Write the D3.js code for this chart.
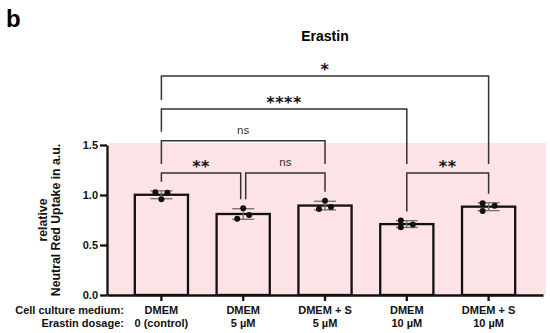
<!DOCTYPE html>
<html>
<head>
<meta charset="utf-8">
<script src="https://cdn.jsdelivr.net/npm/d3@7"></script>
<style>
  body{margin:0;background:#fff;}
  svg{display:block;font-family:"Liberation Sans",Arial,sans-serif;}
</style>
</head>
<body>
<div id="chart"></div>
<script>
// groups on the x axis
const groups=["ctrl","d5","s5","d10","s10"];
const mediumLabels=["DMEM","DMEM","DMEM + S","DMEM","DMEM + S"];
const dosageLabels=["0 (control)","5 µM","5 µM","10 µM","10 µM"];
const rowTitles=["Cell culture medium:","Erastin dosage:"];

// replicate values per group (relative neutral red uptake)
const replicates=[
  [1.027,1.023,0.957],
  [0.867,0.763,0.800],
  [0.943,0.860,0.880],
  [0.745,0.677,0.705],
  [0.917,0.840,0.893]
];
// horizontal spread slot of each dot (-1 left, 0 centre, 1 right)
const spread=[
  [-1,1,0],
  [0,-1,1],
  [0,-1,1],
  [-1,-1,1],
  [-1,-1,1]
];

const yTicks=[0,0.5,1.0,1.5];

// significance brackets: group index from/to, label, height in axis units
const brackets=[
  {from:0,to:1,label:"**",level:1.22},
  {from:1,to:2,label:"ns",level:1.22},
  {from:3,to:4,label:"**",level:1.22},
  {from:0,to:2,label:"ns",level:1.543},
  {from:0,to:3,label:"****",level:1.86},
  {from:0,to:4,label:"*",level:2.19}
];

const width=550, height=333;
const svg=d3.select("#chart").append("svg")
  .attr("width",width).attr("height",height);

const x=d3.scaleBand().domain(groups).range([107,543])
  .paddingInner(0.35).paddingOuter(0.34);
const y=d3.scaleLinear().domain([0,1.5]).range([295,145]);
const slot=d3.scaleLinear().domain([-1,1]).range([-6,6]);

const stats=replicates.map((v,i)=>({
  g:groups[i],
  mean:d3.mean(v),
  sd:d3.deviation(v),
  max:d3.max(v)
}));

// panel letter + title
svg.append("text").attr("x",6).attr("y",26.5)
  .attr("font-size",24).attr("font-weight","bold").text("b");
svg.append("text").attr("x",325).attr("y",41)
  .attr("text-anchor","middle").attr("font-size",14).attr("font-weight","bold")
  .text("Erastin");

// pink plot background
svg.append("rect")
  .attr("x",108).attr("y",y(1.52))
  .attr("width",546-108).attr("height",y(0)-y(1.52))
  .attr("fill","#fde3e5");

// bars
svg.append("g").selectAll("rect").data(stats).enter().append("rect")
  .attr("x",d=>x(d.g)).attr("y",d=>y(d.mean))
  .attr("width",x.bandwidth()).attr("height",d=>y(0)-y(d.mean))
  .attr("fill","none").attr("stroke","#111").attr("stroke-width",2.3);

// error bars (mean +- SD)
const eb=svg.append("g").attr("stroke","#6e6e6e").attr("stroke-width",1.3);
stats.forEach(d=>{
  const cx=x(d.g)+x.bandwidth()/2;
  eb.append("line").attr("x1",cx).attr("x2",cx)
    .attr("y1",y(d.mean-d.sd)).attr("y2",y(d.mean+d.sd));
  [d.mean-d.sd,d.mean+d.sd].forEach(v=>{
    eb.append("line").attr("x1",cx-11).attr("x2",cx+11)
      .attr("y1",y(v)).attr("y2",y(v));
  });
});

// replicate dots
const dots=[];
replicates.forEach((vals,i)=>vals.forEach((v,j)=>dots.push({g:groups[i],v:v,s:spread[i][j]})));
svg.append("g").selectAll("circle").data(dots).enter().append("circle")
  .attr("cx",d=>x(d.g)+x.bandwidth()/2+slot(d.s))
  .attr("cy",d=>y(d.v)).attr("r",3).attr("fill","#111");

// axes
const yAxis=svg.append("g").attr("transform","translate(107,0)")
  .call(d3.axisLeft(y).tickValues(yTicks).tickFormat(d3.format(".1f"))
    .tickSize(7).tickSizeOuter(0).tickPadding(2));
const xAxis=svg.append("g").attr("transform","translate(0,295)")
  .call(d3.axisBottom(x).tickFormat("").tickSize(6).tickSizeOuter(0));
[yAxis,xAxis].forEach(a=>{
  a.selectAll("path,line").attr("stroke","#111").attr("stroke-width",2.3);
});
yAxis.selectAll("text").attr("font-size",11).attr("font-weight","bold")
  .attr("fill","#111").attr("font-family","Liberation Sans, Arial, sans-serif");

// two-row category labels
const rowY=[314,326.5];
[mediumLabels,dosageLabels].forEach((labels,r)=>{
  svg.append("g").selectAll("text").data(labels).enter().append("text")
    .attr("x",(d,i)=>x(groups[i])+x.bandwidth()/2).attr("y",rowY[r])
    .attr("text-anchor","middle").attr("font-size",11).attr("font-weight","bold")
    .attr("fill","#111").text(d=>d);
  svg.append("text").attr("x",124).attr("y",rowY[r])
    .attr("text-anchor","end").attr("font-size",11).attr("font-weight","bold")
    .attr("fill","#111").text(rowTitles[r]);
});

// y axis title
const yt=svg.append("text").attr("transform","translate(46.5,220) rotate(-90)")
  .attr("text-anchor","middle").attr("font-size",12.3).attr("font-weight","bold")
  .attr("fill","#111");
yt.append("tspan").attr("x",0).attr("y",0).text("relative");
yt.append("tspan").attr("x",0).attr("y",13).text("Neutral Red Uptake in a.u.");

// significance brackets
const gap=9;
function legEnd(b,i){
  let top=y(d3.max([stats[i].max,stats[i].mean+stats[i].sd]));
  brackets.forEach(o=>{
    if(o!==b && o.level<b.level && o.from<=i && o.to>=i) top=Math.min(top,y(o.level));
  });
  return top-gap;
}
function legX(b,i,side){
  let cx=x(groups[i])+x.bandwidth()/2;
  const shared=brackets.some(o=>o!==b && o.level===b.level &&
    (side==="left"? o.to===i : o.from===i));
  if(shared) cx+= side==="left"? 2.5 : -2.5;
  return cx;
}
const bg=svg.append("g");
brackets.forEach(b=>{
  const ly=y(b.level);
  const x0=legX(b,b.from,"left"), x1=legX(b,b.to,"right");
  bg.append("path")
    .attr("d",`M${x0},${legEnd(b,b.from)}V${ly}H${x1}V${legEnd(b,b.to)}`)
    .attr("fill","none").attr("stroke","#333").attr("stroke-width",1.5);
  const stars=b.label!=="ns";
  bg.append("text").attr("x",(x0+x1)/2)
    .attr("y",stars? ly-1.5 : ly-6.7)
    .attr("text-anchor","middle")
    .attr("font-family",stars?"DejaVu Sans":"Liberation Sans, Arial, sans-serif")
    .attr("font-weight",stars?"bold":"normal")
    .attr("font-size",stars?16:11.5)
    .attr("letter-spacing",stars?0.5:0)
    .attr("fill",stars?"#111":"#333").text(b.label);
});
</script>
</body>
</html>
